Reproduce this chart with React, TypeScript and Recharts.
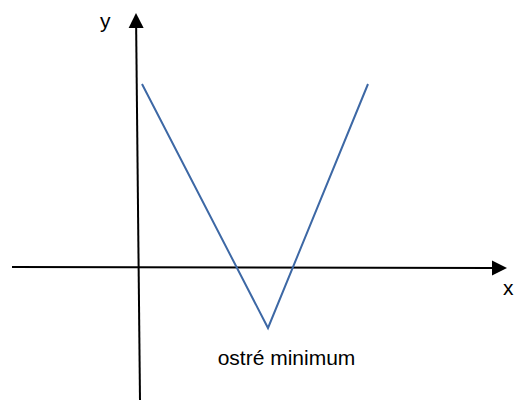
import { LineChart, Line, XAxis, YAxis, ReferenceLine, ReferenceDot } from 'recharts';

// V-shaped function with a sharp minimum
const vPoints = [
    { x: 0.16, y: 7.36 },
    { x: 5.2, y: -2.4 },
    { x: 9.2, y: 7.36 },
];

// hand-drawn axes (the y axis leans a little)
const xAxisLine = [{ x: -5.04, y: 0.04 }, { x: 14.76, y: 0 }];
const yAxisLine = [{ x: 0.08, y: -5.28 }, { x: -0.08, y: 10.2 }];

const labels = [
    { text: 'y', x: -1.52, y: 9.6, anchor: 'start' },
    { text: 'x', x: 14.6, y: -1.08, anchor: 'start' },
    { text: 'ostré minimum', x: 5.94, y: -3.88, anchor: 'middle' },
];

const X_DOMAIN: [number, number] = [-5.52, 15.08];
const Y_DOMAIN: [number, number] = [-5.84, 10.72];

const FONT = '"Liberation Sans", Arial, sans-serif';

// line with a filled arrowhead at its second point
const ArrowLine = (props: any) => {
    const { x1, y1, x2, y2 } = props;
    const dx = x2 - x1;
    const dy = y2 - y1;
    const len = Math.sqrt(dx * dx + dy * dy);
    const ux = dx / len;
    const uy = dy / len;
    const headLen = 15;
    const half = 7.5;
    const bx = x2 - ux * headLen;
    const by = y2 - uy * headLen;
    const pts = `${x2},${y2} ${bx - uy * half},${by + ux * half} ${bx + uy * half},${by - ux * half}`;
    return (
        <g>
            <line x1={x1} y1={y1} x2={bx} y2={by} stroke="#000" strokeWidth={2} />
            <polygon points={pts} fill="#000" />
        </g>
    );
};

export default function App() {
    return (
        <div style={{ position: 'absolute', left: 0, top: 0, background: '#fff' }}>
            <LineChart width={515} height={414} data={vPoints} margin={{ top: 0, right: 0, left: 0, bottom: 0 }}>
                <XAxis type="number" dataKey="x" domain={X_DOMAIN} allowDataOverflow hide />
                <YAxis type="number" dataKey="y" domain={Y_DOMAIN} allowDataOverflow hide />
                <ReferenceLine segment={xAxisLine} ifOverflow="visible" shape={ArrowLine} />
                <ReferenceLine segment={yAxisLine} ifOverflow="visible" shape={ArrowLine} />
                <Line
                    type="linear"
                    dataKey="y"
                    stroke="#3D68A5"
                    strokeWidth={2}
                    dot={false}
                    activeDot={false}
                    isAnimationActive={false}
                />
                {labels.map((l) => (
                    <ReferenceDot
                        key={l.text}
                        x={l.x}
                        y={l.y}
                        ifOverflow="visible"
                        shape={(p: any) => (
                            <text x={p.cx} y={p.cy} textAnchor={l.anchor} fontFamily={FONT} fontSize={21} fill="#000">
                                {l.text}
                            </text>
                        )}
                    />
                ))}
            </LineChart>
        </div>
    );
}
